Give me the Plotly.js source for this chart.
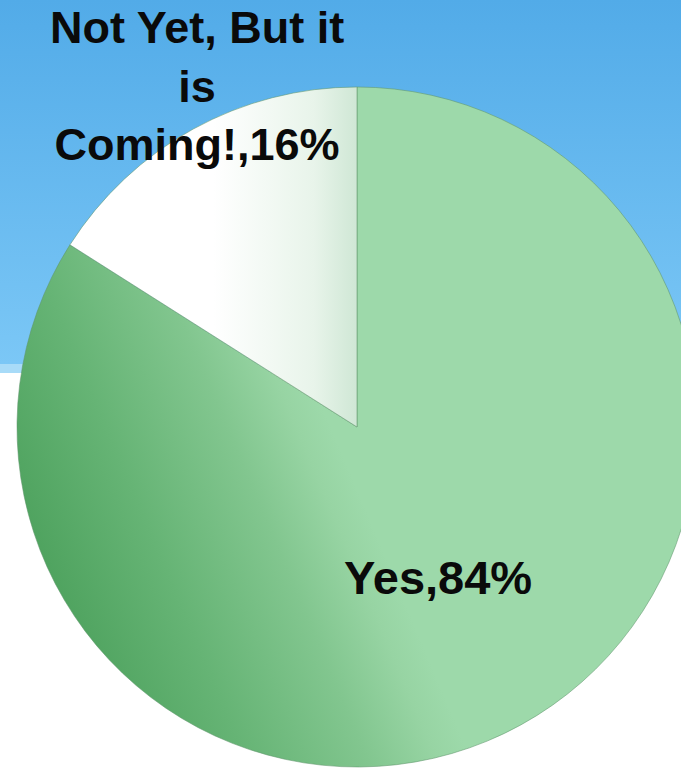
<!DOCTYPE html>
<html>
<head>
<meta charset="utf-8">
<script src="https://cdn.plot.ly/plotly-3.0.1.min.js"></script>
<style>
  html, body { margin: 0; padding: 0; overflow: hidden; background: #ffffff; }
  #chart { width: 714px; height: 769px; }
</style>
</head>
<body>
<div id="chart"></div>
<script>
// ---- data ----
var categories = ['Yes', 'Not Yet, But it is Coming!'];
var displayLabels = ['Yes', 'Not Yet, But it<br>is<br>Coming!'];
var values = [84, 16];
var sliceColors = ['#8ccd99', '#f6fbf7'];

var total = values.reduce(function (a, b) { return a + b; }, 0);
function labelText(i) {
  return displayLabels[i] + ',' + Math.round(values[i] / total * 100) + '%';
}

var W = 714, H = 769;
function px(x) { return x / W; }
function py(y) { return (H - y) / H; }

var trace = {
  type: 'pie',
  labels: categories,
  values: values,
  sort: false,
  direction: 'clockwise',
  rotation: 0,
  textinfo: 'none',
  hoverinfo: 'skip',
  showlegend: false,
  marker: {
    colors: sliceColors,
    line: { color: 'rgba(95,150,108,0.55)', width: 1 }
  },
  domain: { x: [px(17), px(697)], y: [py(767), py(87)] }
};

var labelFont = { family: 'Liberation Sans, Arial, sans-serif', size: 45, color: '#0a0a0a', weight: 'bold' };

var layout = {
  width: W,
  height: H,
  margin: { l: 0, r: 0, t: 0, b: 0, pad: 0 },
  paper_bgcolor: '#ffffff',
  plot_bgcolor: 'rgba(0,0,0,0)',
  showlegend: false,
  shapes: [
    { type: 'rect', xref: 'paper', yref: 'paper', x0: 0, x1: 1, y0: py(364), y1: 1,
      fillcolor: '#66b8ee', line: { width: 0 }, layer: 'below' },
    { type: 'rect', xref: 'paper', yref: 'paper', x0: 0, x1: 1, y0: py(373), y1: py(364),
      fillcolor: '#a8dbf8', line: { width: 0 }, layer: 'below' }
  ],
  annotations: [
    { xref: 'paper', yref: 'paper', x: px(197), y: py(86), xanchor: 'center', yanchor: 'middle',
      text: '<b>' + labelText(1) + '</b>', showarrow: false, align: 'center', font: labelFont },
    { xref: 'paper', yref: 'paper', x: px(438), y: py(577), xanchor: 'center', yanchor: 'middle',
      text: '<b>' + labelText(0) + '</b>', showarrow: false, align: 'center',
      font: { family: labelFont.family, size: 47, color: '#0a0a0a', weight: 'bold' } }
  ]
};

function addGradient(defs, id, coords, stops) {
  var NS = 'http://www.w3.org/2000/svg';
  var g = document.createElementNS(NS, 'linearGradient');
  g.setAttribute('id', id);
  g.setAttribute('x1', coords[0]); g.setAttribute('y1', coords[1]);
  g.setAttribute('x2', coords[2]); g.setAttribute('y2', coords[3]);
  stops.forEach(function (s) {
    var st = document.createElementNS(NS, 'stop');
    st.setAttribute('offset', s[0]);
    st.setAttribute('stop-color', s[1]);
    g.appendChild(st);
  });
  defs.appendChild(g);
}

Plotly.newPlot('chart', [trace], layout, { staticPlot: true, displayModeBar: false }).then(function (gd) {
  var svg = gd.querySelector('svg.main-svg');
  var defs = svg.querySelector('defs');
  if (!defs) { defs = document.createElementNS('http://www.w3.org/2000/svg', 'defs'); svg.insertBefore(defs, svg.firstChild); }
  addGradient(defs, 'gradYes', ['0.107', '0.863', '0.538', '0.681'],
    [['0', '#4fa35f'], ['0.35', '#66b475'], ['0.7', '#82c68f'], ['0.9', '#97d4a3'], ['1', '#9dd9aa']]);
  addGradient(defs, 'gradNot', ['0', '0', '1', '0'],
    [['0', '#ffffff'], ['0.5', '#ffffff'], ['0.85', '#e8f4ea'], ['1', '#cfe7d5']]);
  addGradient(defs, 'gradSky', ['0', '0', '0', '1'],
    [['0', '#52abe8'], ['1', '#7bc7f6']]);
  var slices = gd.querySelectorAll('g.slice path.surface');
  if (slices[0]) slices[0].style.fill = 'url(#gradYes)';
  if (slices[1]) slices[1].style.fill = 'url(#gradNot)';
  var shapes = gd.querySelectorAll('.layer-below .shapelayer path');
  if (shapes[0]) shapes[0].style.fill = 'url(#gradSky)';
});
</script>
</body>
</html>
